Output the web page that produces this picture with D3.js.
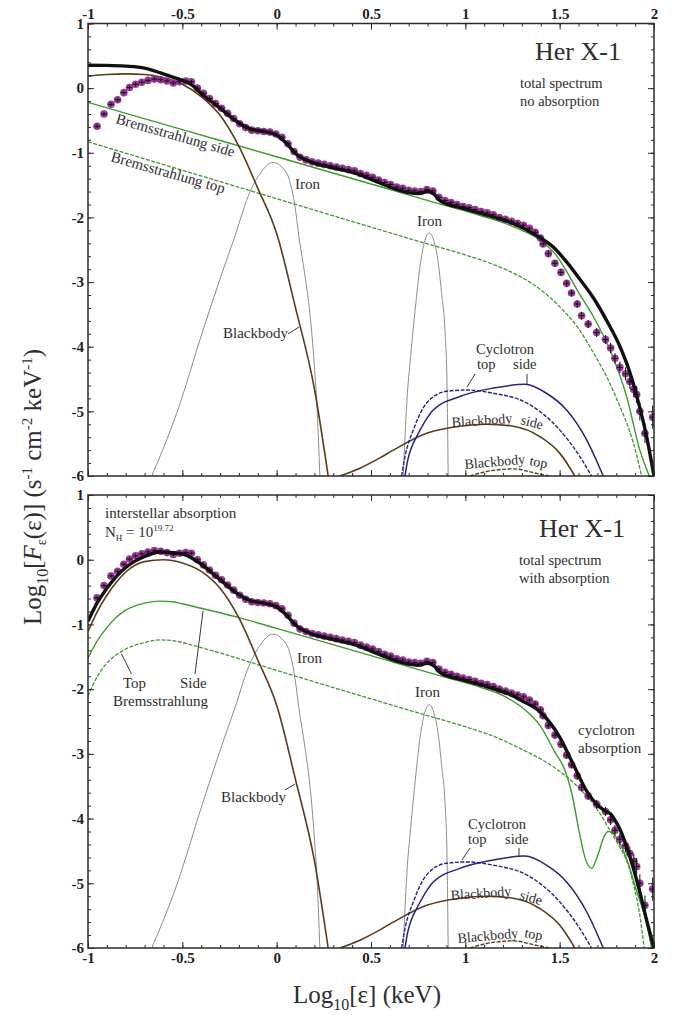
<!DOCTYPE html>
<html><head><meta charset="utf-8">
<script src="https://cdn.jsdelivr.net/npm/d3@7"></script>
<style>
body{margin:0;background:#fff}
svg{display:block}
text{font-family:"Liberation Serif","Times New Roman",serif}
</style>
</head><body>
<svg id="c" width="683" height="1015"></svg>
<script>
// ---------- tick values / labels ----------
const xTickVals = [-1, -0.5, 0, 0.5, 1, 1.5, 2];
const xTickLabels = ["-1", "-0.5", "0", "0.5", "1", "1.5", "2"];
const yTickVals = [1, 0, -1, -2, -3, -4, -5, -6];
const yTickLabels = ["1", "0", "-1", "-2", "-3", "-4", "-5", "-6"];

// ---------- observed spectrum (same in both panels) ----------
const obs = [
 [-0.952,-0.59],[-0.915,-0.40],[-0.878,-0.25],[-0.843,-0.18],[-0.81,-0.07],[-0.78,0.01],
 [-0.748,0.06],[-0.715,0.09],[-0.682,0.12],[-0.648,0.14],[-0.615,0.13],[-0.582,0.11],
 [-0.548,0.08],[-0.515,0.10],[-0.482,0.11],[-0.452,0.10],[-0.42,0.0],[-0.388,-0.08],
 [-0.356,-0.16],[-0.324,-0.24],[-0.292,-0.31],[-0.26,-0.39],[-0.228,-0.47],[-0.196,-0.55],
 [-0.164,-0.61],[-0.132,-0.65],[-0.1,-0.66],[-0.068,-0.67],[-0.036,-0.68],[-0.004,-0.71],
 [0.028,-0.76],[0.06,-0.86],[0.092,-0.98],[0.124,-1.07],[0.156,-1.11],[0.188,-1.14],
 [0.22,-1.16],[0.252,-1.18],[0.284,-1.20],[0.316,-1.22],[0.348,-1.24],[0.38,-1.26],
 [0.412,-1.28],[0.444,-1.32],[0.476,-1.35],[0.508,-1.38],[0.54,-1.42],[0.572,-1.46],
 [0.604,-1.49],[0.636,-1.53],[0.668,-1.55],[0.7,-1.58],[0.732,-1.59],[0.764,-1.60],
 [0.796,-1.57],[0.828,-1.59],[0.86,-1.69],[0.892,-1.74],[0.924,-1.77],[0.956,-1.80],
 [0.988,-1.83],[1.02,-1.85],[1.052,-1.88],[1.084,-1.91],[1.116,-1.93],[1.148,-1.96],
 [1.18,-2.00],[1.212,-2.03],[1.244,-2.06],[1.276,-2.09],[1.308,-2.12],[1.34,-2.17],
 [1.37,-2.23],[1.398,-2.32],[1.412,-2.41],[1.44,-2.56],[1.475,-2.71],[1.507,-2.85],
 [1.537,-3.02],[1.563,-3.17],[1.593,-3.34],[1.616,-3.52],[1.651,-3.65],[1.696,-3.78],
 [1.743,-3.89],[1.770,-4.02],[1.793,-4.18],[1.819,-4.32],[1.849,-4.42],[1.872,-4.54],
 [1.893,-4.66],[1.908,-4.74],[1.925,-5.0],[1.952,-5.34],[1.993,-5.09]
];
// vertical half-errors of the observed points
const obsErr = [
 0.03,0.03,0.03,0.03,0.03,0.03,0.03,0.03,0.03,0.03,0.03,0.03,
 0.03,0.03,0.03,0.03,0.03,0.03,0.03,0.03,0.03,0.03,0.03,0.03,
 0.03,0.03,0.03,0.03,0.03,0.03,0.03,0.03,0.03,0.03,0.03,0.03,
 0.03,0.03,0.03,0.03,0.03,0.03,0.03,0.03,0.03,0.03,0.03,0.03,
 0.03,0.03,0.03,0.03,0.03,0.03,0.03,0.03,0.03,0.03,0.03,0.03,
 0.03,0.03,0.03,0.03,0.03,0.03,0.03,0.03,0.03,0.03,0.03,0.03,
 0.04,0.04,0.04,0.05,0.05,0.05,0.05,0.05,0.06,0.06,0.06,0.07,
 0.07,0.08,0.08,0.09,0.10,0.11,0.12,0.13,0.14,0.15,0.18,0.25,0.3
];

// ---------- panel 1: no absorption ----------
const totalTop = [
 [-1,0.355],[-0.9,0.352],[-0.8,0.34],[-0.7,0.31],[-0.62,0.24],[-0.55,0.17],[-0.5,0.12],
 [-0.45,0.05],[-0.39,-0.11],[-0.3,-0.31],[-0.21,-0.52],[-0.14,-0.63],[-0.07,-0.67],
 [0,-0.73],[0.05,-0.85],[0.1,-1.01],[0.18,-1.14],[0.28,-1.22],[0.42,-1.32],[0.55,-1.47],
 [0.65,-1.58],[0.75,-1.63],[0.8,-1.60],[0.83,-1.63],[0.87,-1.75],[0.99,-1.86],[1.11,-1.96],
 [1.25,-2.09],[1.36,-2.25],[1.47,-2.47],[1.54,-2.70],[1.6,-2.93],[1.68,-3.25],[1.75,-3.6],
 [1.82,-4.0],[1.87,-4.38],[1.91,-4.78],[1.96,-5.38],[2.0,-6.0]
];
const bbMainTop = [
 [-1,0.185],[-0.9,0.21],[-0.8,0.22],[-0.7,0.21],[-0.6,0.16],[-0.5,0.06],[-0.4,-0.13],
 [-0.3,-0.42],[-0.2,-0.90],[-0.1,-1.55],[0,-2.25],[0.1,-3.40],[0.2,-4.65],[0.273,-6.0]
];
const bremsSideTop = [
 [-1,-0.22],[-0.5,-0.641],[0,-1.062],[0.5,-1.483],[0.9,-1.82],[1.0,-1.90],[1.1,-1.99],
 [1.2,-2.08],[1.3,-2.20],[1.4,-2.36],[1.48,-2.58],[1.54,-2.85],[1.6,-3.16],[1.68,-3.54],
 [1.78,-4.14],[1.855,-4.77],[1.925,-5.6],[1.975,-6.0]
];
const bremsTopTop = [
 [-1,-0.83],[-0.5,-1.27],[0,-1.71],[0.5,-2.15],[0.8,-2.41],[1.0,-2.58],[1.15,-2.73],
 [1.3,-2.93],[1.4,-3.12],[1.5,-3.38],[1.6,-3.72],[1.68,-4.10],[1.75,-4.47],[1.82,-4.93],
 [1.87,-5.3],[1.91,-5.70],[1.934,-6.0]
];

// ---------- panel 2: with absorption ----------
const totalBot = [
 [-1,-0.95],[-0.95,-0.66],[-0.9,-0.44],[-0.85,-0.26],[-0.8,-0.12],[-0.7,0.05],[-0.62,0.12],
 [-0.55,0.11],[-0.48,0.07],[-0.4,-0.07],[-0.3,-0.31],[-0.21,-0.52],[-0.14,-0.63],[-0.07,-0.67],
 [0,-0.73],[0.05,-0.85],[0.1,-1.01],[0.18,-1.14],[0.28,-1.22],[0.42,-1.32],[0.55,-1.47],
 [0.65,-1.58],[0.75,-1.63],[0.8,-1.60],[0.83,-1.63],[0.87,-1.75],[0.99,-1.86],[1.11,-1.96],
 [1.25,-2.10],[1.3,-2.18],[1.4,-2.36],[1.5,-2.74],[1.57,-3.15],[1.64,-3.56],[1.7,-3.79],
 [1.74,-3.88],[1.77,-3.93],[1.8,-4.06],[1.82,-4.17],[1.87,-4.57],[1.92,-5.08],[1.96,-5.56],
 [2.0,-6.0]
];
const bbMainBot = [
 [-1,-1.11],[-0.95,-0.80],[-0.9,-0.55],[-0.85,-0.35],[-0.8,-0.19],[-0.7,-0.03],[-0.6,0.0],
 [-0.5,-0.05],[-0.4,-0.18],[-0.3,-0.44],[-0.2,-0.90],[-0.1,-1.55],[0,-2.25],[0.1,-3.40],
 [0.2,-4.65],[0.273,-6.0]
];
const bremsSideBot = [
 [-1,-1.52],[-0.95,-1.25],[-0.9,-1.05],[-0.85,-0.89],[-0.8,-0.78],[-0.7,-0.67],[-0.62,-0.64],
 [-0.55,-0.65],[-0.5,-0.68],[-0.4,-0.75],[-0.3,-0.82],[-0.2,-0.894],[0,-1.062],[0.5,-1.483],
 [0.9,-1.82],[1.0,-1.90],[1.1,-1.99],[1.2,-2.10],[1.3,-2.28],[1.4,-2.58],[1.47,-2.95],
 [1.53,-3.27],[1.565,-3.62],[1.6,-4.15],[1.634,-4.6],[1.669,-4.77],[1.704,-4.55],
 [1.735,-4.28],[1.757,-4.20],[1.78,-4.22],[1.802,-4.30],[1.855,-4.62],[1.908,-5.12],
 [1.961,-5.62],[1.987,-6.0]
];
const bremsTopBot = [
 [-1,-2.11],[-0.95,-1.80],[-0.9,-1.60],[-0.85,-1.47],[-0.8,-1.38],[-0.7,-1.28],[-0.62,-1.24],
 [-0.55,-1.25],[-0.5,-1.28],[-0.4,-1.36],[-0.3,-1.44],[-0.2,-1.53],[0,-1.71],[0.5,-2.15],
 [0.8,-2.41],[1.0,-2.58],[1.15,-2.73],[1.3,-2.93],[1.4,-3.08],[1.5,-3.27],[1.6,-3.52],
 [1.7,-3.86],[1.77,-4.2],[1.82,-4.45],[1.855,-4.65],[1.89,-5.0],[1.925,-5.5],[1.948,-6.0]
];

// ---------- components shared by both panels ----------
const iron1 = [
 [-0.662,-6.0],[-0.53,-5.03],[-0.39,-3.74],[-0.3,-2.95],
 [-0.21,-2.19],[-0.16,-1.74],[-0.09,-1.33],[-0.02,-1.15],[0.05,-1.30],[0.097,-1.83],
 [0.118,-2.3],[0.15,-2.9],[0.176,-3.48],[0.2,-4.3],[0.215,-5.0],[0.229,-6.0]
];
const iron2 = [
 [0.671,-6.0],[0.69,-4.85],[0.71,-4.15],[0.735,-3.4],[0.76,-2.75],[0.785,-2.36],
 [0.809,-2.24],[0.833,-2.36],[0.857,-2.71],[0.875,-3.2],[0.892,-3.74],[0.903,-4.6],[0.909,-6.0]
];
const cycSide = [
 [0.68,-6.0],[0.695,-5.75],[0.72,-5.52],[0.742,-5.39],[0.83,-4.98],[0.971,-4.77],
 [1.148,-4.64],[1.316,-4.58],[1.43,-4.72],[1.537,-4.98],[1.643,-5.44],[1.731,-6.0]
];
const cycTop = [
 [0.662,-6.0],[0.68,-5.7],[0.724,-5.29],[0.795,-4.87],[0.9,-4.69],[1.007,-4.67],
 [1.148,-4.72],[1.325,-4.87],[1.501,-5.29],[1.607,-5.70],[1.669,-6.0]
];
const bbSide = [
 [0.335,-6.0],[0.441,-5.88],[0.547,-5.72],[0.618,-5.60],[0.795,-5.34],[0.971,-5.23],
 [1.113,-5.20],[1.254,-5.23],[1.395,-5.39],[1.501,-5.65],[1.572,-5.96],[1.58,-6.0]
];
const bbTopSmall = [
 [1.024,-6.0],[1.113,-5.93],[1.254,-5.89],[1.378,-5.96],[1.448,-6.0]
];

// ---------- drawing ----------
const C = {
  total:"#111", brown:"#5a3c18", green:"#3f9a2e", iron:"#8c8c8c", navy:"#24247e",
  dot:"#952f91", frame:"#2b2b2b", text:"#2e2e2e"
};
const svg = d3.select("#c");
const xS = d3.scaleLinear().domain([-1, 2]).range([88, 654]);
const xMinor = d3.range(-1, 2.0001, 0.1).map(v => +v.toFixed(2));
const yMinor = d3.range(-6, 1.0001, 0.2).map(v => +v.toFixed(2));

function panel(idx, top, bottom, sets) {
  const yS = d3.scaleLinear().domain([-6, 1]).range([bottom, top]);
  const g = svg.append("g");
  const cid = "clip" + idx;
  svg.append("clipPath").attr("id", cid).append("rect")
    .attr("x", 88).attr("y", top).attr("width", 566).attr("height", bottom - top);
  const plot = g.append("g").attr("clip-path", `url(#${cid})`);
  const line = d3.line().x(d => xS(d[0])).y(d => yS(d[1])).curve(d3.curveMonotoneX);

  const comps = [
    {d: iron1, c: C.iron, w: 1},
    {d: iron2, c: C.iron, w: 1},
    {d: sets.brSide, c: C.green, w: 1.4},
    {d: sets.brTop, c: C.green, w: 1.3, dash: "4,1.5"},
    {d: sets.bb, c: C.brown, w: 1.6},
    {d: bbSide, c: C.brown, w: 1.6},
    {d: bbTopSmall, c: C.brown, w: 1.4, dash: "4,1.5"},
    {d: cycSide, c: C.navy, w: 1.5},
    {d: cycTop, c: C.navy, w: 1.4, dash: "4,1.5"}
  ];
  comps.forEach(s => {
    plot.append("path").attr("d", line(s.d)).attr("fill", "none")
      .attr("stroke", s.c).attr("stroke-width", s.w)
      .attr("stroke-dasharray", s.dash || null);
  });

  // data points
  plot.append("g").selectAll("circle").data(obs).join("circle")
    .attr("cx", d => xS(d[0])).attr("cy", d => yS(d[1])).attr("r", 3.8)
    .attr("fill", C.dot).attr("fill-opacity", 0.95);
  const eb = plot.append("g").attr("stroke", "#111").attr("stroke-width", 1);
  obs.forEach((d, i) => {
    eb.append("line").attr("x1", xS(d[0] - 0.015)).attr("x2", xS(d[0] + 0.015))
      .attr("y1", yS(d[1])).attr("y2", yS(d[1]));
    eb.append("line").attr("x1", xS(d[0])).attr("x2", xS(d[0]))
      .attr("y1", yS(d[1] - obsErr[i])).attr("y2", yS(d[1] + obsErr[i]));
  });

  // total model
  plot.append("path").attr("d", line(sets.total)).attr("fill", "none")
    .attr("stroke", C.total).attr("stroke-width", 3.4);

  // axes (ticks inward)
  function ax(axis, tr, vals, size, labels, pad) {
    const a = axis.tickValues(vals).tickSizeInner(-size).tickSizeOuter(0).tickPadding(pad || 3)
      .tickFormat(labels ? ((v, i) => labels[i]) : "");
    const gg = g.append("g").attr("transform", tr).call(a);
    gg.select(".domain").remove();
    gg.selectAll("line").attr("stroke", C.frame).attr("stroke-width", 1);
    gg.selectAll("text").attr("font-family", '"Liberation Serif","Times New Roman",serif')
      .attr("font-weight", "bold").attr("font-size", 15).attr("fill", "#222");
    return gg;
  }
  const xOnTop = idx === 0;
  ax(d3.axisTop(xS), `translate(0,${top})`, xTickVals, 6, xOnTop ? xTickLabels : null, 5);
  ax(d3.axisTop(xS), `translate(0,${top})`, xMinor, 3, null);
  ax(d3.axisBottom(xS), `translate(0,${bottom})`, xTickVals, 6, xOnTop ? null : xTickLabels, 4);
  ax(d3.axisBottom(xS), `translate(0,${bottom})`, xMinor, 3, null);
  ax(d3.axisLeft(yS), `translate(88,0)`, yTickVals, 6, yTickLabels, 4);
  ax(d3.axisLeft(yS), `translate(88,0)`, yMinor, 3, null);
  ax(d3.axisRight(yS), `translate(654,0)`, yTickVals, 6, null);
  ax(d3.axisRight(yS), `translate(654,0)`, yMinor, 3, null);

  g.append("rect").attr("x", 88).attr("y", top).attr("width", 566).attr("height", bottom - top)
    .attr("fill", "none").attr("stroke", C.frame).attr("stroke-width", 1.5);
}

panel(0, 23.5, 476, {total: totalTop, bb: bbMainTop, brSide: bremsSideTop, brTop: bremsTopTop});
panel(1, 495, 948, {total: totalBot, bb: bbMainBot, brSide: bremsSideBot, brTop: bremsTopBot});

// ---------- annotations ----------
function T(txt, x, y, size, rot) {
  const t = svg.append("text").attr("x", x).attr("y", y).attr("font-size", size || 15)
    .attr("fill", C.text).text(txt);
  if (rot) t.attr("transform", `rotate(${rot},${x},${y})`);
  return t;
}
function L(x1, y1, x2, y2) {
  svg.append("line").attr("x1", x1).attr("y1", y1).attr("x2", x2).attr("y2", y2)
    .attr("stroke", "#222").attr("stroke-width", 0.9);
}

// top panel
T("Her X-1", 535, 60, 26);
T("total spectrum", 520, 88, 14.5);
T("no absorption", 520, 106, 14.5);
T("Bremsstrahlung side", 115, 123, 15, 16);
T("Bremsstrahlung top", 110, 161, 15, 16);
T("Iron", 295, 189, 15);
T("Iron", 417, 226, 15);
T("Blackbody", 223, 338, 15);
L(288, 334, 299, 327);
T("Cyclotron", 476, 354, 14.5);
T("top", 477, 369, 14.5);
T("side", 513, 369, 14.5);
L(475, 374, 467, 387);
L(527, 374, 527, 384);
T("Blackbody", 452, 427, 14, -4);
T("side", 520, 424, 14, 14);
T("Blackbody", 465, 469, 14, -5);
T("top", 529, 465, 14, 11);

// bottom panel
T("interstellar absorption", 105, 518, 15);
const nh = svg.append("text").attr("x", 105).attr("y", 537).attr("font-size", 15).attr("fill", C.text);
nh.append("tspan").text("N");
nh.append("tspan").attr("dy", 4).attr("font-size", 9).text("H");
nh.append("tspan").attr("dy", -4).text(" = 10");
nh.append("tspan").attr("dy", -6).attr("font-size", 9).text("19.72");
T("Her X-1", 539, 537, 26);
T("total spectrum", 519, 565, 14.5);
T("with absorption", 519, 583, 14.5);
T("Top", 123, 688, 15);
T("Side", 180, 688, 15);
T("Bremsstrahlung", 113, 706, 15);
L(131.5, 674, 121.5, 654);
L(195, 674, 203, 611);
T("Iron", 297, 663, 15);
T("Iron", 415, 697, 15);
T("Blackbody", 221, 802, 15);
L(285, 790, 295, 784);
T("cyclotron", 578, 735, 15);
T("absorption", 578, 753, 15);
T("Cyclotron", 468, 829, 14.5);
T("top", 468, 844, 14.5);
T("side", 505, 844, 14.5);
L(470, 848, 462, 860);
L(519, 848, 519, 857);
T("Blackbody", 451, 900, 14, -4);
T("side", 519, 899, 14, 16);
T("Blackbody", 458, 943, 14, -5);
T("top", 524, 937, 14, 11);

// axis titles
const xt = svg.append("text").attr("x", 293).attr("y", 1003).attr("font-size", 25).attr("fill", C.text);
xt.append("tspan").text("Log");
xt.append("tspan").attr("dy", 7).attr("font-size", 16).text("10");
xt.append("tspan").attr("dy", -7).text("[ε] (keV)");

const yt = svg.append("text").attr("transform", "translate(41,487) rotate(-90)")
  .attr("text-anchor", "middle").attr("font-size", 25).attr("fill", C.text);
yt.append("tspan").text("Log");
yt.append("tspan").attr("dy", 7).attr("font-size", 16).text("10");
yt.append("tspan").attr("dy", -7).text("[");
yt.append("tspan").attr("font-style", "italic").text("F");
yt.append("tspan").attr("dy", 5).attr("font-size", 14).text("ε");
yt.append("tspan").attr("dy", -5).text("(ε)] (s");
yt.append("tspan").attr("dy", -9).attr("font-size", 15).text("-1");
yt.append("tspan").attr("dy", 9).text(" cm");
yt.append("tspan").attr("dy", -9).attr("font-size", 15).text("-2");
yt.append("tspan").attr("dy", 9).text(" keV");
yt.append("tspan").attr("dy", -9).attr("font-size", 15).text("-1");
yt.append("tspan").attr("dy", 9).text(")");
</script>
</body></html>
